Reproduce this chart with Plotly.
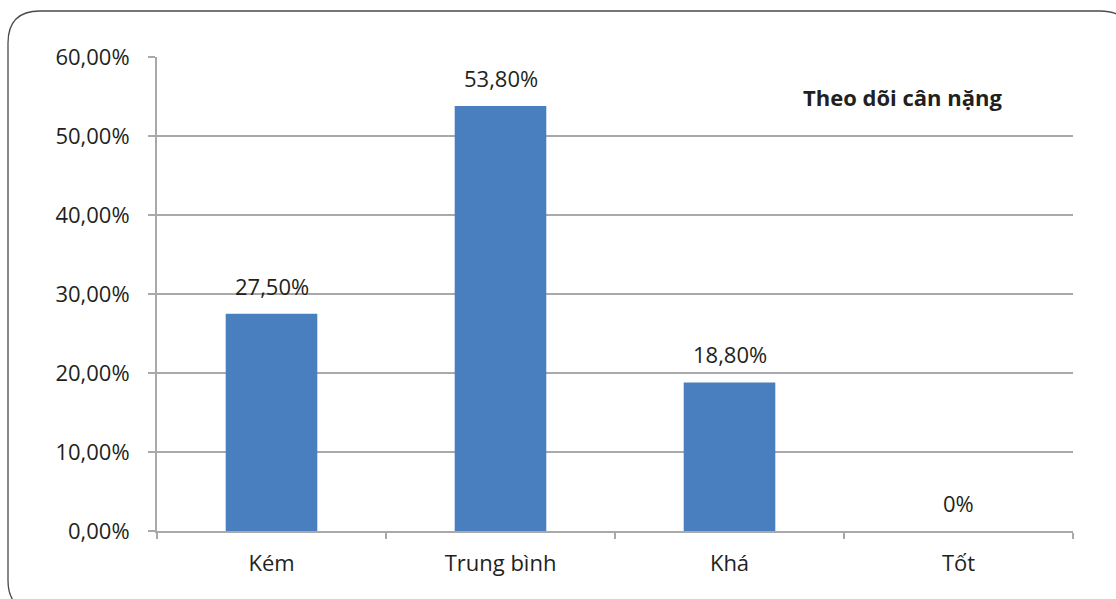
import plotly.graph_objects as go

# Weight-tracking results by rating
categories = ["Kém", "Trung bình", "Khá", "Tốt"]
shares = [0.275, 0.538, 0.188, 0.0]
y_ticks = [0.0, 0.1, 0.2, 0.3, 0.4, 0.5, 0.6]
chart_title = "Theo dõi cân nặng"

W, H = 1116, 599
ML, MR, MT, MB = 157, 43, 57, 68
PW, PH = W - ML - MR, H - MT - MB

FONT = "Open Sans"
FS = 22
TEXT = "#231f20"
GRID = "#a9a9ab"
BAR = "#4a7fbf"


def fmt_pct(v):
    if v == 0:
        return "0%"
    return f"{v * 100:.2f}".replace(".", ",") + "%"


def px_x(px):
    return (px - ML) / PW


def px_y(py):
    return (H - MB - py) / PH


fig = go.Figure(
    go.Bar(
        x=categories,
        y=shares,
        marker=dict(color=BAR, line=dict(width=0)),
        width=0.4,
        hoverinfo="skip",
    )
)

# value labels above each bar
for cat, v in zip(categories, shares):
    fig.add_annotation(
        x=cat, y=v, xref="x", yref="y",
        text=fmt_pct(v), showarrow=False,
        yanchor="bottom", yshift=11,
        font=dict(family=FONT, size=FS, color=TEXT),
    )

# chart title inside the plot area
fig.add_annotation(
    x=px_x(902), y=px_y(97), xref="paper", yref="paper",
    text="<b>" + chart_title + "</b>", showarrow=False,
    xanchor="center", yanchor="middle",
    font=dict(family=FONT, size=FS, color=TEXT),
)

# rounded outer frame
x0, y0, x1, y1, r = 8, 11, 1132, 612, 32
path = (
    f"M {px_x(x0 + r)} {px_y(y0)} L {px_x(x1 - r)} {px_y(y0)} "
    f"Q {px_x(x1)} {px_y(y0)} {px_x(x1)} {px_y(y0 + r)} "
    f"L {px_x(x1)} {px_y(y1 - r)} "
    f"Q {px_x(x1)} {px_y(y1)} {px_x(x1 - r)} {px_y(y1)} "
    f"L {px_x(x0 + r)} {px_y(y1)} "
    f"Q {px_x(x0)} {px_y(y1)} {px_x(x0)} {px_y(y1 - r)} "
    f"L {px_x(x0)} {px_y(y0 + r)} "
    f"Q {px_x(x0)} {px_y(y0)} {px_x(x0 + r)} {px_y(y0)} Z"
)
fig.add_shape(
    type="path", path=path, xref="paper", yref="paper",
    line=dict(color="#4a4a4a", width=1.3), layer="above",
)

fig.update_layout(
    width=W, height=H,
    margin=dict(l=ML, r=MR, t=MT, b=MB),
    paper_bgcolor="white", plot_bgcolor="white",
    separators=",.",
    showlegend=False,
    bargap=0.6,
    font=dict(family=FONT, size=FS, color=TEXT),
)

fig.update_xaxes(
    type="category",
    showgrid=False,
    showline=True, linecolor=GRID, linewidth=2,
    ticks="outside", tickson="boundaries", ticklen=6, tickwidth=2, tickcolor=GRID,
    tickfont=dict(family=FONT, size=FS, color=TEXT),
    ticklabelstandoff=12,
)

fig.update_yaxes(
    range=[0, 0.6],
    tickvals=y_ticks,
    tickformat=".2%",
    showgrid=True, gridcolor=GRID, gridwidth=2,
    showline=True, linecolor=GRID, linewidth=2,
    ticks="outside", ticklen=7, tickwidth=2, tickcolor=GRID,
    tickfont=dict(family=FONT, size=FS, color=TEXT),
    ticklabelstandoff=14,
    zeroline=False,
)

fig.write_html("out.html")
